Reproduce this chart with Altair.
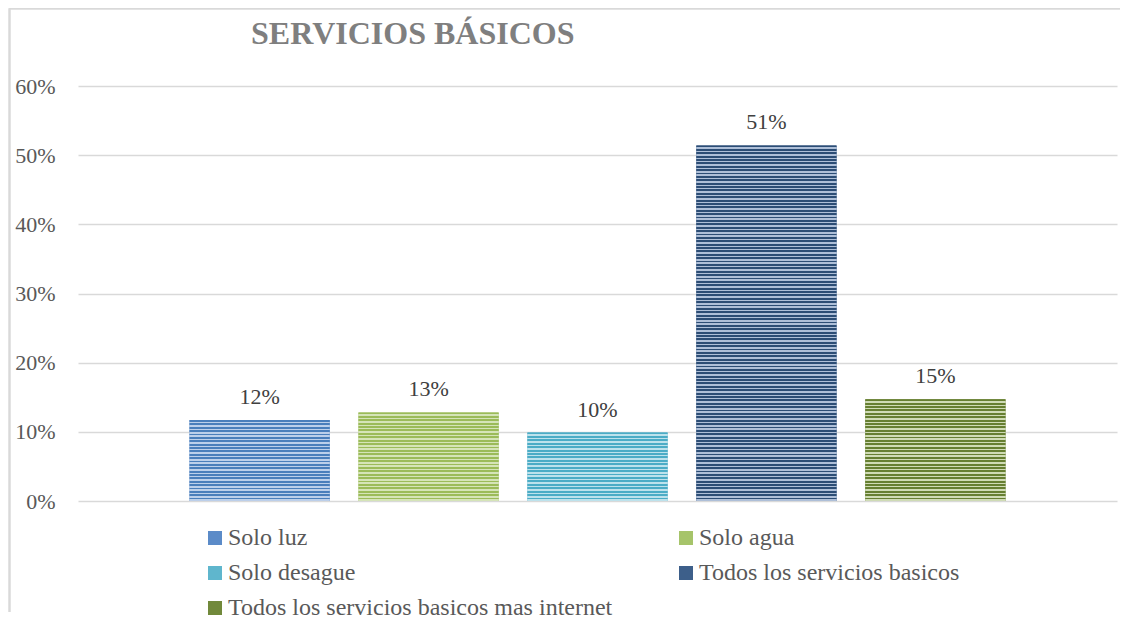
import altair as alt
import pandas as pd

# ---- data ----
categories = [
    "Solo luz",
    "Solo agua",
    "Solo  desague",
    "Todos los servicios basicos",
    "Todos los servicios basicos mas internet",
]
values = [0.117, 0.128, 0.099, 0.514, 0.147]
y_ticks = [0, 0.1, 0.2, 0.3, 0.4, 0.5, 0.6]
title_text = "SERVICIOS BÁSICOS"
# legend is filled column by column: left column first, then right column
legend_order = [0, 2, 4, 1, 3]

# ---- styles ----
dark = ["#4a7ebb", "#9bbb59", "#4bacc6", "#2c4d75", "#667f31"]
light = ["#bccfea", "#d5e4b8", "#bde2ec", "#aebfd8", "#cfdbb5"]
legend_cols = ["#5b8bc8", "#a6c46a", "#5fb6cd", "#3d5f8a", "#71893b"]
SERIF = "Liberation Serif"
W, H = 1039, 415
YMAX = 0.6
STRIPE_PX = 3.4

df = pd.DataFrame({"cat": categories, "val": values})

x_enc = alt.X("cat:N", sort=categories, axis=None,
              scale=alt.Scale(paddingInner=0.17, paddingOuter=0.66))
y_enc = alt.Y("val:Q",
              scale=alt.Scale(domain=[0, YMAX], nice=False),
              axis=alt.Axis(values=y_ticks, format=".0%", title=None,
                            ticks=False, domain=False, labelPadding=23,
                            labelFont=SERIF, labelFontSize=22,
                            labelColor="#595959", gridColor="#d9d9d9",
                            gridWidth=1.3))

base = alt.Chart(df)

leg_domain = [categories[i] for i in legend_order]
leg_range = [legend_cols[i] for i in legend_order]

legend_bars = base.mark_bar().encode(
    x=x_enc,
    y=y_enc,
    color=alt.Color("cat:N",
                    scale=alt.Scale(domain=leg_domain, range=leg_range),
                    legend=alt.Legend(
                        title=None, orient="none", legendX=125, legendY=440,
                        columns=2, columnPadding=61, rowPadding=11,
                        symbolType="square", symbolSize=196,
                        symbolStrokeWidth=0, labelOffset=1,
                        labelFont=SERIF, labelFontSize=24,
                        labelColor="#595959", padding=0,
                        labelLimit=600)),
)


def stripes(d, l, n):
    stops = []
    for i in range(n):
        a = i / n
        m = (i + 0.55) / n
        b = (i + 1) / n
        stops += [
            alt.GradientStop(offset=a, color=d),
            alt.GradientStop(offset=m, color=d),
            alt.GradientStop(offset=m, color=l),
            alt.GradientStop(offset=b, color=l),
        ]
    return alt.LinearGradient(gradient="linear", stops=stops,
                              x1=0, x2=0, y1=0, y2=1)


striped = []
for c, v, d, l in zip(categories, values, dark, light):
    n = max(3, round(v / YMAX * H / STRIPE_PX))
    striped.append(
        base.transform_filter(alt.datum.cat == c)
        .mark_bar(color=stripes(d, l, n))
        .encode(x=x_enc, y="val:Q")
    )

labels = base.mark_text(
    font=SERIF, fontSize=22, color="#404040",
    baseline="alphabetic", dy=-16,
).encode(x=x_enc, y="val:Q", text=alt.Text("val:Q", format=".0%"))

frame_top = alt.Chart(df).mark_rule(color="#d9d9d9", strokeWidth=1.5).encode(
    x=alt.value(-68.5), x2=alt.value(1042), y=alt.value(-77.5))
frame_left = alt.Chart(df).mark_rule(color="#d9d9d9", strokeWidth=1.5).encode(
    x=alt.value(-68.5), y=alt.value(-77.5), y2=alt.value(526))

chart = alt.layer(
    frame_top, frame_left, legend_bars, *striped, labels
).properties(
    width=W,
    height=H,
    autosize=alt.AutoSizeParams(type="none"),
    padding={"left": 70, "top": 78, "right": 3, "bottom": 119},
    title=alt.Title(
        title_text, anchor="start", frame="group", dx=173, offset=-68,
        baseline="alphabetic", font=SERIF, fontSize=32, fontWeight="bold",
        color="#7f7f7f"),
).configure(background="white", view=alt.ViewConfig(stroke=None))

chart.save("out.html", embed_options={"renderer": "svg", "actions": False})
